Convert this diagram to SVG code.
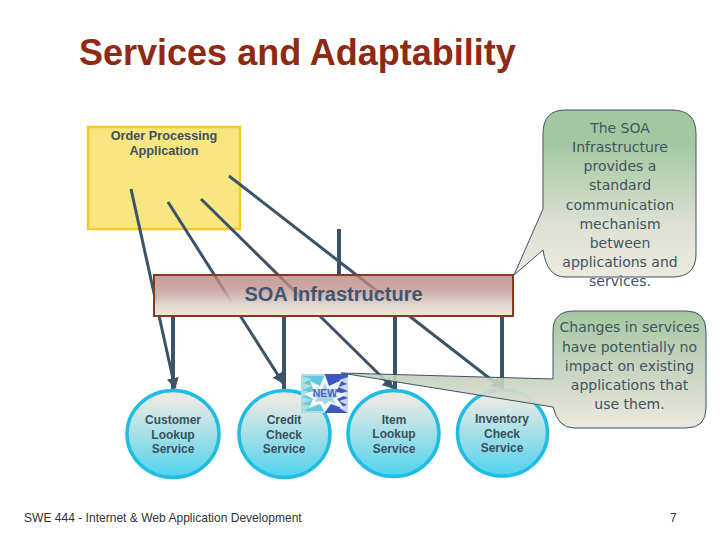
<svg xmlns="http://www.w3.org/2000/svg" width="720" height="540" viewBox="0 0 720 540">
<style>
.ln{stroke:#3b5368;fill:none}
.thin{stroke-width:3}
.thick{stroke-width:4}
.node{font-family:"Liberation Sans",Arial,sans-serif;font-weight:700;fill:#3b4f5c;text-anchor:middle;font-size:12px}
.app{font-size:12.7px}
.note{font-family:"DejaVu Sans",Verdana,sans-serif;fill:#3f5560;text-anchor:middle;font-size:14px}
.circ{fill:url(#gc);stroke:#1fbde4;stroke-width:3.5}
.call{stroke:#3b5368;stroke-width:1}
</style>
<defs>
<linearGradient id="gc" x1="0" y1="0" x2="0" y2="1"><stop offset="0.12" stop-color="#e6e9e4"/><stop offset="1" stop-color="#4fd3ee"/></linearGradient>
<linearGradient id="gb" x1="0" y1="0" x2="0" y2="1"><stop offset="0" stop-color="#b8807a" stop-opacity="0.75"/><stop offset="0.3" stop-color="#c09089" stop-opacity="0.8"/><stop offset="0.72" stop-color="#dfd8d2"/><stop offset="1" stop-color="#f3e6dc"/></linearGradient>
<linearGradient id="g1" x1="0" y1="0" x2="0" y2="1"><stop offset="0.2" stop-color="#a3c89f"/><stop offset="0.7" stop-color="#dfe1d5"/><stop offset="1" stop-color="#eceade"/></linearGradient>
<linearGradient id="g2" gradientUnits="userSpaceOnUse" x1="0" y1="311" x2="0" y2="428"><stop offset="0" stop-color="#a3c89f"/><stop offset="0.55" stop-color="#c5d0bc" stop-opacity="0.88"/><stop offset="1" stop-color="#eceade"/></linearGradient>
<marker id="ah" markerUnits="userSpaceOnUse" markerWidth="12" markerHeight="12" refX="10" refY="6" orient="auto"><path d="M0 0L11 6L0 12Z" fill="#3b5368"/></marker>
</defs>
<text x="79" y="65" font-family="Liberation Sans,Arial,sans-serif" font-weight="700" font-size="36px" fill="#8f2a12">Services and Adaptability</text>
<g id="app"><rect x="88" y="127" width="152" height="102" fill="#fae680" stroke="#f2cc2a" stroke-width="2.5"/>
<text class="node app" x="164" y="140">Order Processing</text><text class="node app" x="164" y="155">Application</text></g>
<g id="connectors">
<path class="ln thin" d="M131 189L175 388" marker-end="url(#ah)"/>
<path class="ln thin" d="M168 202L283 383" marker-end="url(#ah)"/>
<path class="ln thin" d="M201 199L393 388" marker-end="url(#ah)"/>
<path class="ln thin" d="M229 176L502 388" marker-end="url(#ah)"/>
<path class="ln thick" d="M339 229V275M173 316V391M284 316V391M395 316V391M502 316V391"/>
</g>
<g id="soa"><rect x="154" y="275" width="359" height="41" fill="url(#gb)" stroke="#8a3a1c" stroke-width="2"/>
<text x="333.5" y="301" font-family="Liberation Sans,Arial,sans-serif" font-weight="700" font-size="20px" fill="#3e5770" text-anchor="middle">SOA Infrastructure</text></g>
<g id="customer"><ellipse class="circ" cx="173" cy="434" rx="46" ry="43.5"/><text class="node" x="173" y="424">Customer</text><text class="node" x="173" y="439">Lookup</text><text class="node" x="173" y="453">Service</text></g>
<g id="credit"><ellipse class="circ" cx="284.5" cy="434" rx="45.5" ry="43.5"/><text class="node" x="284" y="424">Credit</text><text class="node" x="284" y="439">Check</text><text class="node" x="284" y="453">Service</text></g>
<g id="item"><ellipse class="circ" cx="393.5" cy="433.5" rx="45.5" ry="43"/><text class="node" x="394" y="424">Item</text><text class="node" x="394" y="438">Lookup</text><text class="node" x="394" y="453">Service</text></g>
<g id="inventory"><ellipse class="circ" cx="502.5" cy="433" rx="45" ry="43"/><text class="node" x="502" y="423">Inventory</text><text class="node" x="502" y="438">Check</text><text class="node" x="502" y="452">Service</text></g>
<g id="new"><rect x="301" y="374" width="24" height="39" fill="#a9dde0"/><rect x="325" y="374" width="23" height="39" fill="#3f56c0"/>
<polygon points="301,376 312,379 303,383 313,386 302,390 312,393 302,397 312,400 302,404 313,406 304,411 325,411 325,376" fill="#63c9dc"/>
<polygon points="348,377 339,380 347,384 338,387 348,391 339,394 348,398 339,401 347,405 339,408 346,412 348,413 348,374" fill="#c9d6ee"/>
<polygon points="325,375 329,386 342,380 336,392 348,394 337,399 345,409 331,404 325,412 320,404 309,408 313,399 304,394 314,391 310,381 320,386" fill="#f2f8f8"/>
<polygon points="325,383 328,391 336,388 333,394 339,396 333,399 336,404 329,401 325,405 322,401 315,402 317,398 311,395 318,392 316,388 322,390" fill="#a9d4e6"/>
<text x="325" y="397" font-family="Liberation Sans,Arial,sans-serif" font-weight="700" font-size="10.5px" fill="#4f62c4" text-anchor="middle">NEW</text></g>
<g id="note1"><path class="call" fill="url(#g1)" d="M565 110H672Q696 110 696 134V254Q696 277 672 277H565Q547 277 543 250L514 275L543 209V134Q543 110 565 110Z"/>
<text class="note" x="620" y="133">The SOA</text><text class="note" x="620" y="152">Infrastructure</text><text class="note" x="620" y="171">provides a</text><text class="note" x="620" y="190">standard</text><text class="note" x="620" y="210">communication</text><text class="note" x="620" y="229">mechanism</text><text class="note" x="620" y="248">between</text><text class="note" x="620" y="267">applications and</text><text class="note" x="620" y="286">services.</text></g>
<g id="note2"><path class="call" fill="url(#g2)" d="M574 311H686Q706 311 706 331V408Q706 428 686 428H574Q558 428 553 407L341 373L553 379V331Q553 311 574 311Z"/>
<text class="note" x="629.5" y="332">Changes in services</text><text class="note" x="629.5" y="352">have potentially no</text><text class="note" x="629.5" y="371">impact on existing</text><text class="note" x="629.5" y="390">applications that</text><text class="note" x="629.5" y="409">use them.</text></g>
<text x="24" y="522" font-family="Liberation Sans,Arial,sans-serif" font-size="12.05px" fill="#333">SWE 444 - Internet &amp; Web Application Development</text>
<text x="670" y="522" font-family="Liberation Sans,Arial,sans-serif" font-size="12px" fill="#333">7</text>
</svg>
